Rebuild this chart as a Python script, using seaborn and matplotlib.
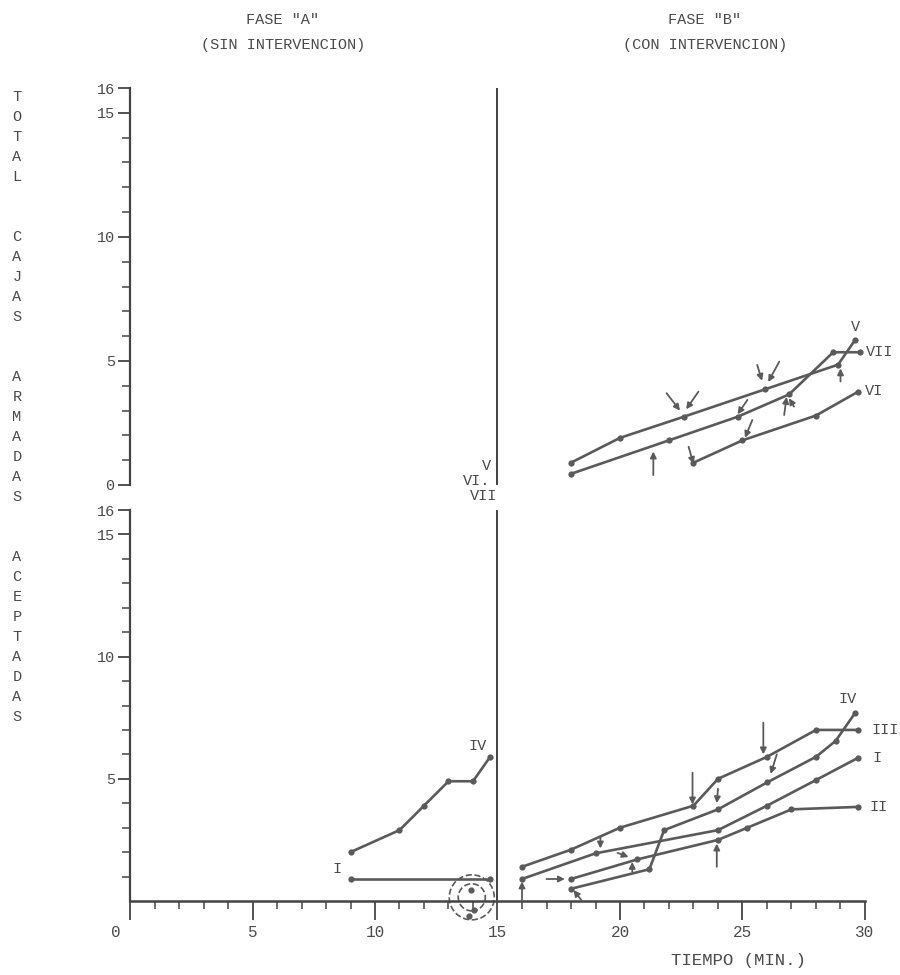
import numpy as np
import pandas as pd
import seaborn as sns
import matplotlib.pyplot as plt

# ---- datos ----
# panel superior: sujetos V, VI, VII (fase B)
sup_t_v = [18, 20, 22.6, 25.9, 28.9, 29.6]
sup_v_v = [0.9, 1.9, 2.75, 3.85, 4.85, 5.85]
sup_t_vii = [18, 22, 24.8, 26.9, 28.7, 29.8]
sup_v_vii = [0.45, 1.8, 2.75, 3.65, 5.35, 5.35]
sup_t_vi = [23, 25, 28, 29.7]
sup_v_vi = [0.9, 1.8, 2.8, 3.75]

# panel inferior, fase A: sujetos I y IV
a_t_iv = [9, 11, 12, 13, 14, 14.7]
a_v_iv = [2, 2.9, 3.9, 4.9, 4.9, 5.9]
a_t_i = [9, 14.7]
a_v_i = [0.9, 0.9]

# panel inferior, fase B: sujetos I, II, III, IV
b_t_iii = [16, 18, 20, 23, 24, 26, 28, 29.7]
b_v_iii = [1.4, 2.1, 3.0, 3.9, 5.0, 5.9, 7.0, 7.0]
b_t_i = [16, 19, 24, 26, 28, 29.7]
b_v_i = [0.9, 1.95, 2.9, 3.9, 4.95, 5.85]
b_t_ii = [18, 20.7, 24, 25.2, 27, 29.7]
b_v_ii = [0.9, 1.7, 2.5, 3.0, 3.75, 3.85]
b_t_iv = [18, 21.2, 21.8, 24, 26, 28, 28.8, 29.6]
b_v_iv = [0.5, 1.3, 2.9, 3.75, 4.85, 5.9, 6.55, 7.7]

# flechas de intervencion (cola t, cola v, punta t, punta v)
flechas_sup = [(21.36, 0.4, 21.36, 1.35), (21.9, 3.7, 22.45, 3.0), (23.2, 3.76, 22.7, 3.05),
               (25.2, 3.43, 24.8, 2.85), (25.6, 4.84, 25.8, 4.2), (26.5, 4.97, 26.05, 4.15),
               (26.7, 2.82, 26.8, 3.55), (27.1, 3.16, 26.9, 3.5), (29.0, 4.17, 29.0, 4.7),
               (22.8, 1.54, 23.0, 0.85), (25.4, 2.62, 25.1, 1.9)]
flechas_inf = [(16, 0.0, 16, 0.8), (17.0, 0.9, 17.75, 0.9), (18.45, 0.0, 18.1, 0.45),
               (19.2, 2.65, 19.2, 2.15), (19.9, 1.97, 20.35, 1.8), (20.5, 1.2, 20.5, 1.6),
               (22.96, 5.25, 22.96, 3.95), (24.0, 4.6, 23.95, 4.0), (25.85, 7.3, 25.85, 6.0),
               (26.4, 6.0, 26.15, 5.2), (23.95, 1.4, 23.95, 2.35)]

def tabla(series):
    filas = []
    for nombre, ts, vs in series:
        for t, v in zip(ts, vs):
            filas.append({'serie': nombre, 't': t, 'v': v})
    return pd.DataFrame(filas)

df_sup = tabla([('V', sup_t_v, sup_v_v), ('VII', sup_t_vii, sup_v_vii), ('VI', sup_t_vi, sup_v_vi)])
df_inf = tabla([('A-IV', a_t_iv, a_v_iv), ('A-I', a_t_i, a_v_i),
                ('III', b_t_iii, b_v_iii), ('I', b_t_i, b_v_i),
                ('II', b_t_ii, b_v_ii), ('IV', b_t_iv, b_v_iv)])

sns.set_theme(style='white')
plt.rcParams['font.family'] = ['Liberation Mono', 'DejaVu Sans Mono']
gris = '#5a5a5a'
txt = '#4a4a4a'

fig = plt.figure(figsize=(9, 9.75), dpi=100)
ax_sup = fig.add_axes([130/900, 490/975, 735/900, 397/975])
ax_inf = fig.add_axes([130/900, 74/975, 735/900, 391/975])

for ax, df, menores in [(ax_sup, df_sup, range(0, 16)), (ax_inf, df_inf, range(1, 16))]:
    sns.lineplot(data=df, x='t', y='v', units='serie', estimator=None, sort=False,
                 color=gris, lw=1.9, marker='o', markersize=4.5, markeredgewidth=0, ax=ax)
    ax.set_xlim(0, 30)
    ax.set_ylim(0, 16)
    ax.set_xlabel('')
    ax.set_ylabel('')
    ax.axvline(15, color='#333333', lw=1.3)
    for s in ['top', 'right']:
        ax.spines[s].set_visible(False)
    ax.spines['left'].set_color('#444444')
    ax.spines['left'].set_linewidth(1.6)
    ax.set_yticks([0, 5, 10, 15, 16])
    ax.set_yticks(list(menores), minor=True)
    ax.tick_params(axis='y', which='major', direction='out', length=9, width=1.3,
                   color='#444444', labelsize=11, labelcolor=txt, left=True, pad=2)
    ax.tick_params(axis='y', which='minor', direction='out', length=6, width=1.1,
                   color='#444444', left=True)

for ax, flechas in [(ax_sup, flechas_sup), (ax_inf, flechas_inf)]:
    for t0, v0, t1, v1 in flechas:
        ax.annotate('', xy=(t1, v1), xytext=(t0, v0),
                    arrowprops=dict(arrowstyle='-|>', color=gris, lw=1.3, mutation_scale=9,
                                    shrinkA=0, shrinkB=0))

# panel superior: sin eje x
ax_sup.spines['bottom'].set_visible(False)
ax_sup.set_xticks([])

# panel inferior
ax_inf.spines['bottom'].set_color('#444444')
ax_inf.spines['bottom'].set_linewidth(1.8)
ax_inf.set_yticks([5, 10, 15, 16])
ax_inf.set_yticklabels(['5', '10', '15', '16'])
ax_inf.set_xticks(range(0, 31, 5))
ax_inf.set_xticklabels(['0 ', '5', '10', '15', '20', '25', '30'])
ax_inf.set_xticks(range(0, 31), minor=True)
ax_inf.tick_params(axis='x', which='major', direction='out', length=14, width=1.3,
                   color='#444444', labelsize=11.5, labelcolor=txt, bottom=True, pad=3)
ax_inf.tick_params(axis='x', which='minor', direction='out', length=6, width=1.1,
                   color='#444444', bottom=True)
ax_inf.get_xticklabels()[0].set_horizontalalignment('right')

# circulos punteados en fase A
ax_inf.scatter([13.95, 13.95], [0.15, 0.15], s=[1050, 380], facecolors='none',
               edgecolors=gris, linestyle='--', linewidths=1.2, clip_on=False)
ax_inf.scatter([13.9, 14.05, 13.85], [0.45, -0.35, -0.6], s=12, color=gris, clip_on=False)

# etiquetas de sujetos
kw = dict(fontsize=11, color=txt, clip_on=False)
ax_sup.text(29.6, 6.35, 'V', ha='center', va='center', **kw)
ax_sup.text(30.05, 5.35, 'VII', ha='left', va='center', **kw)
ax_sup.text(30.0, 3.8, 'VI', ha='left', va='center', **kw)
ax_sup.text(14.55, 0.75, 'V', ha='center', va='center', **kw)
ax_sup.text(14.7, 0.15, 'VI.', ha='right', va='center', **kw)
ax_sup.text(14.45, -0.45, 'VII', ha='center', va='center', **kw)

ax_inf.text(29.3, 8.25, 'IV', ha='center', va='center', **kw)
ax_inf.text(30.25, 7.0, 'III', ha='left', va='center', **kw)
ax_inf.text(30.3, 5.85, 'I', ha='left', va='center', **kw)
ax_inf.text(30.2, 3.85, 'II', ha='left', va='center', **kw)
ax_inf.text(14.2, 6.35, 'IV', ha='center', va='center', **kw)
ax_inf.text(8.45, 1.3, 'I', ha='center', va='center', **kw)

# titulos y rotulos
fig.text(282/900, 1 - 20/975, 'FASE "A"', ha='center', va='center', fontsize=11, color=txt)
fig.text(283/900, 1 - 45/975, '(SIN INTERVENCION)', ha='center', va='center', fontsize=11, color=txt)
fig.text(705/900, 1 - 20/975, 'FASE "B"', ha='center', va='center', fontsize=11, color=txt)
fig.text(705/900, 1 - 45/975, '(CON INTERVENCION)', ha='center', va='center', fontsize=11, color=txt)
fig.text(738/900, 1 - 960/975, 'TIEMPO (MIN.)', ha='center', va='center', fontsize=12.5, color=txt)

rotulo = 'TOTAL  CAJAS  ARMADAS  ACEPTADAS'
for i, letra in enumerate(rotulo):
    if letra != ' ':
        fig.text(17/900, 1 - (97 + 20*i)/975, letra, ha='center', va='center',
                 fontsize=11, color=txt)

fig.savefig('out.png', dpi=100, facecolor='white')
